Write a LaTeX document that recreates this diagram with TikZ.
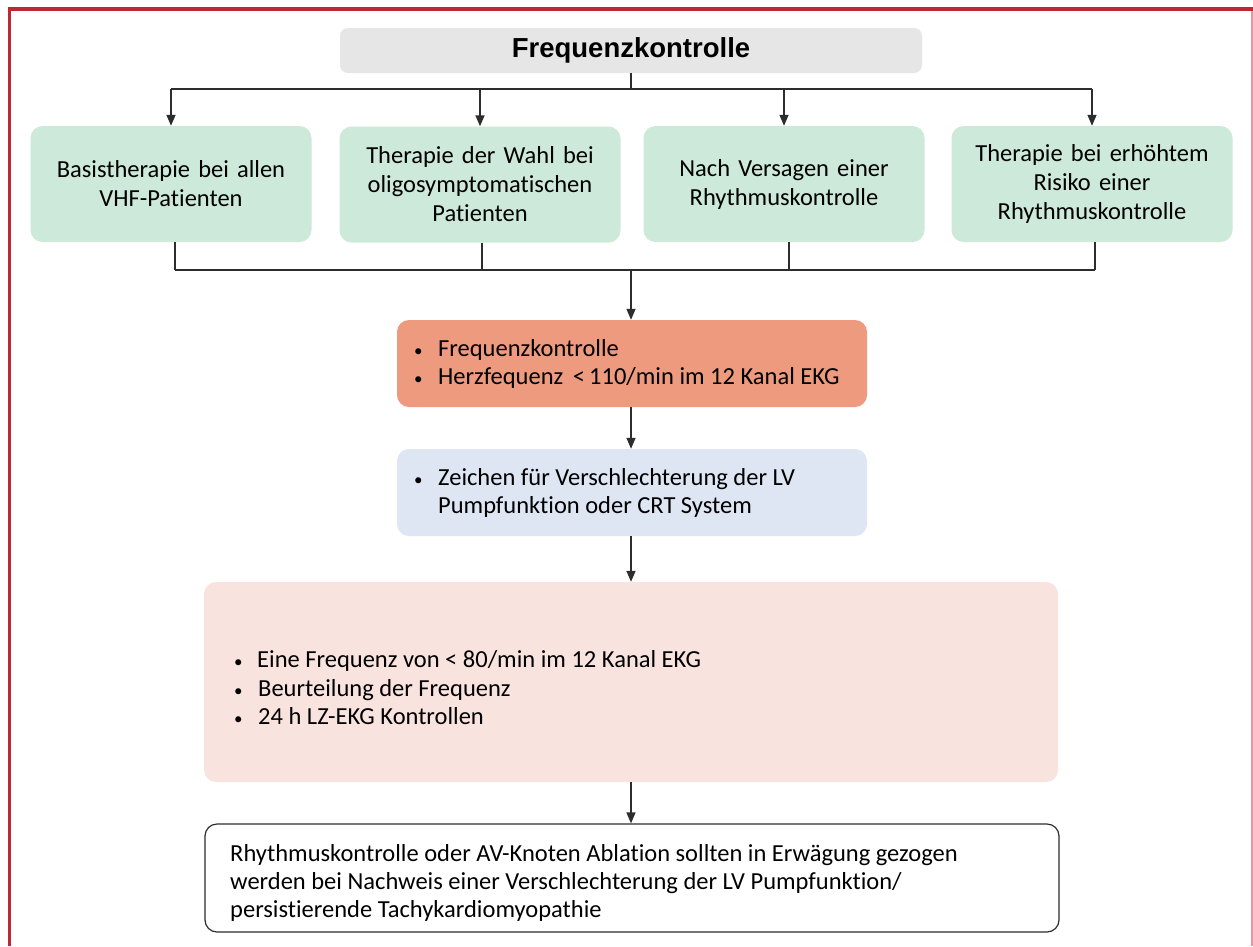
\documentclass[tikz,border=0pt]{standalone}
\usepackage{fontspec}
\setmainfont{Carlito}[Ligatures=NoCommon]
\newfontfamily\titlefont{Liberation Sans}
\usetikzlibrary{arrows.meta}
\definecolor{frame}{RGB}{190,40,52}
\definecolor{frameR}{RGB}{232,150,160}
\definecolor{greybox}{RGB}{230,230,230}
\definecolor{greenbox}{RGB}{205,233,217}
\definecolor{orangebox}{RGB}{237,154,126}
\definecolor{bluebox}{RGB}{222,230,243}
\definecolor{pinkbox}{RGB}{249,227,223}
\definecolor{lineC}{RGB}{45,45,45}
\newlength\bulw
\setlength\bulw{24pt}
\newcommand\bul{\makebox[\bulw][l]{\fontsize{17}{17}\selectfont •}}
\tikzset{
  box/.style={rectangle, rounded corners=12pt, inner sep=0pt, font=\fontsize{24.5}{29}\selectfont},
  greenb/.style={box, fill=greenbox, minimum width=281pt, minimum height=116pt, text width=275pt, align=center},
  btext/.style={anchor=west, inner sep=0pt, font=\fontsize{24.5}{28.5}\selectfont, align=left},
  conn/.style={draw=lineC, line width=1.4pt},
  arr/.style={conn, -{Triangle[length=11pt,width=9pt]}},
}
\begin{document}
\begin{tikzpicture}[x=1pt,y=-1pt]
\useasboundingbox (0,0) rectangle (1253,946);
\fill[white] (0,0) rectangle (1253,946);
% frame
\draw[frameR, line width=1.5pt] (1252,9) -- (1252,946);
\draw[frame, line width=3.5pt] (9.5,946) -- (9.5,9) -- (1253,9);

\node[box, fill=greybox, rounded corners=8pt, minimum width=582pt, minimum height=45pt, font=\titlefont\bfseries\fontsize{27.5}{32}\selectfont] (title) at (631,50.5) {Frequenzkontrolle};

\node[greenb] (g1) at (171,184) {Basistherapie bei allen\\VHF-Patienten};
\node[greenb] (g2) at (480,184.5) {Therapie der Wahl bei\\oligosymptomatischen\\Patienten};
\node[greenb] (g3) at (784,184) {Nach Versagen einer\\Rhythmuskontrolle};
\node[greenb] (g4) at (1092,184) {Therapie bei erhöhtem\\Risiko einer\\Rhythmuskontrolle};

\node[box, fill=orangebox, minimum width=470pt, minimum height=87pt] (o) at (632,363.5) {};
\node[btext] (otext) at (414,364) {\bul Frequenzkontrolle\\\bul Herzfequenz \,<\,110/min im 12 Kanal EKG};

\node[box, fill=bluebox, minimum width=470pt, minimum height=87pt] (b) at (632,492.5) {};
\node[btext] (btext) at (414,493) {\bul Zeichen für Verschlechterung der LV\\\hspace*{\bulw}Pumpfunktion oder CRT System};

\node[box, fill=pinkbox, minimum width=854pt, minimum height=200pt] (p) at (631,682) {};
\node[btext] (ptext) at (234,688) {\setlength\bulw{23pt}\bul Eine Frequenz von < 80/min im 12 Kanal EKG\\\bul Beurteilung der Frequenz\\\bul 24 h LZ-EKG Kontrollen};

\node[box, draw=lineC, line width=1.2pt, fill=white, minimum width=854pt, minimum height=108pt] (w) at (632,878) {};
\node[btext, font=\fontsize{24.5}{28}\selectfont] (wtext) at (230,883) {%
Rhythmuskontrolle oder AV-Knoten Ablation sollten in Erwägung gezogen\\werden bei Nachweis einer Verschlechterung der LV Pumpfunktion/\\persistierende Tachykardiomyopathie};

% connectors top
\coordinate (hub) at (631,89);
\draw[conn] (title.south) -- (title.south |- hub);
\draw[conn] (g1.center |- hub) -- (g4.center |- hub);
\draw[arr] (g1.center |- hub) -- (g1.north);
\draw[arr] (g2.center |- hub) -- (g2.north);
\draw[arr] (g3.center |- hub) -- (g3.north);
\draw[arr] (g4.center |- hub) -- (g4.north);

% connectors bottom
\coordinate (hub2) at (631,270);
\draw[conn] ([xshift=4pt]g1.south) -- ([xshift=4pt]g1.south |- hub2);
\draw[conn] ([xshift=2pt]g2.south) -- ([xshift=2pt]g2.south |- hub2);
\draw[conn] ([xshift=5pt]g3.south) -- ([xshift=5pt]g3.south |- hub2);
\draw[conn] ([xshift=3pt]g4.south) -- ([xshift=3pt]g4.south |- hub2);
\draw[conn] ([xshift=4pt]g1.south |- hub2) -- ([xshift=3pt]g4.south |- hub2);
\draw[arr] (hub2) -- (hub2 |- o.north);

\draw[arr] (hub2 |- o.south) -- (hub2 |- b.north);
\draw[arr] (hub2 |- b.south) -- (hub2 |- p.north);
\draw[arr] (hub2 |- p.south) -- (hub2 |- w.north);
\end{tikzpicture}
\end{document}
